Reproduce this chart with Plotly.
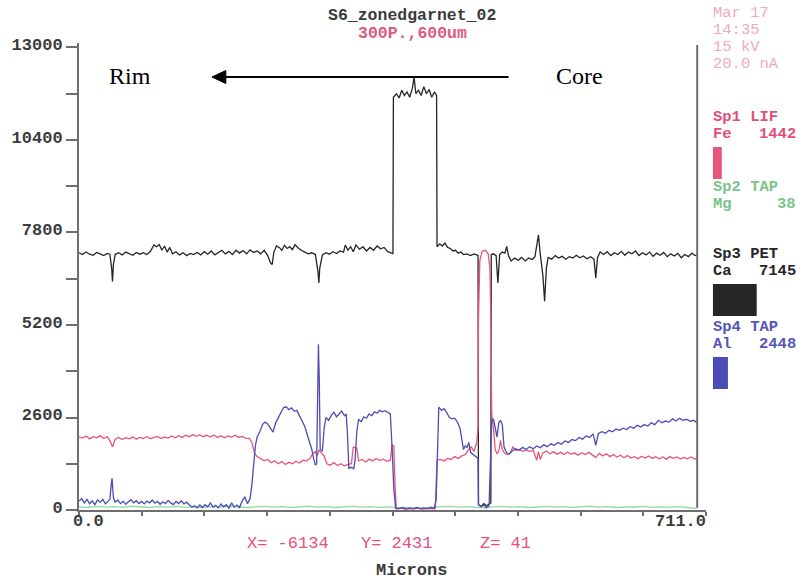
import plotly.graph_objects as go
import numpy as np

# ---- line-scan profiles (microns, counts) ----
CA_PROFILE = [
    (0, 7230), (4, 7180), (8, 7250), (12, 7190), (16, 7160), (20, 7240), (24, 7200), (28, 7150),
    (32, 7210), (35, 7190), (37, 6800), (38, 6420), (39, 6900), (41, 7180), (45, 7230), (49, 7170),
    (53, 7250), (57, 7200), (61, 7160), (65, 7240), (69, 7190), (73, 7230), (77, 7180), (81, 7270),
    (85, 7450), (88, 7400), (91, 7460), (94, 7300), (97, 7420), (100, 7250), (103, 7380), (106, 7200),
    (110, 7260), (114, 7170), (118, 7230), (122, 7150), (126, 7210), (130, 7180), (134, 7240), (138, 7170),
    (142, 7260), (146, 7190), (150, 7280), (154, 7170), (158, 7240), (162, 7300), (166, 7200), (170, 7270),
    (174, 7180), (178, 7300), (182, 7220), (186, 7290), (190, 7200), (194, 7310), (198, 7240), (202, 7280),
    (206, 7200), (210, 7300), (214, 7150), (217, 6950), (219, 6900), (221, 7250), (224, 7420), (227, 7380),
    (230, 7300), (233, 7440), (236, 7350), (239, 7400), (242, 7320), (245, 7460), (248, 7380), (252, 7300),
    (256, 7250), (260, 7200), (264, 7230), (268, 7180), (271, 6700), (272, 6380), (273, 6800), (276, 7170),
    (280, 7230), (284, 7190), (288, 7260), (292, 7210), (296, 7280), (300, 7250), (302, 7450), (305, 7300),
    (308, 7400), (311, 7260), (314, 7450), (318, 7330), (322, 7400), (326, 7280), (330, 7380), (334, 7300),
    (338, 7420), (342, 7340), (346, 7380), (350, 7260), (354, 7230), (356, 7200),
    (356.5, 11600), (360, 11700), (363, 11580), (366, 11800), (369, 11650), (372, 11750), (375, 11600),
    (378, 11850), (380, 12160), (382, 11700), (385, 11800), (388, 11650), (391, 11900), (394, 11700),
    (397, 11820), (400, 11600), (403, 11750), (405.5, 11650),
    (406, 7400), (409, 7480), (412, 7420), (415, 7500), (418, 7380), (421, 7350), (424, 7280), (427, 7300),
    (430, 7220), (433, 7250), (436, 7180), (440, 7200), (444, 7150), (448, 7200), (451, 7170), (452.5, 7150),
    (453, 150), (456, 100), (459, 180), (462, 120), (465, 160), (467, 200),
    (467.5, 7180), (470, 7200), (473, 7150), (475, 6380), (477, 7180), (480, 7250), (483, 7220), (485, 7410),
    (487, 7150), (490, 7000), (494, 7080), (498, 7020), (502, 7100), (506, 7000), (510, 7080), (514, 7040),
    (517, 7120), (520, 7600), (521, 7735), (523, 7200), (526, 6600), (528, 5870), (530, 6800), (532, 7100),
    (536, 7050), (540, 7150), (544, 7080), (548, 7130), (552, 7050), (556, 7120), (560, 7080), (564, 7160),
    (568, 7090), (572, 7140), (576, 7060), (580, 7120), (584, 7050), (586, 6520), (588, 7100), (591, 7250),
    (595, 7180), (599, 7260), (603, 7150), (607, 7230), (611, 7180), (615, 7270), (619, 7160), (623, 7250),
    (627, 7200), (631, 7280), (635, 7150), (639, 7230), (643, 7170), (647, 7250), (651, 7130), (655, 7220),
    (659, 7160), (663, 7240), (667, 7120), (671, 7200), (675, 7140), (679, 7210), (683, 7090), (687, 7180),
    (691, 7120), (695, 7220), (698, 7160), (701, 7145),
]

FE_PROFILE = [
    (0, 2050), (4, 2020), (8, 2080), (12, 2000), (16, 2060), (20, 2030), (24, 2090), (28, 2010),
    (32, 2060), (35, 1950), (38, 1780), (41, 1990), (45, 2040), (49, 1980), (53, 2030), (57, 2000),
    (61, 2050), (65, 1990), (69, 2040), (73, 2010), (77, 2060), (81, 2000), (85, 2040), (89, 2070),
    (93, 2010), (97, 2050), (101, 2020), (105, 2080), (109, 2030), (113, 2090), (117, 2040), (121, 2100),
    (125, 2060), (129, 2120), (133, 2070), (137, 2110), (141, 2060), (145, 2100), (149, 2050), (153, 2110),
    (157, 2040), (161, 2090), (165, 2030), (169, 2080), (173, 2050), (177, 2100), (181, 2040), (185, 2070),
    (189, 2020), (193, 2010), (196, 1900), (199, 1600), (202, 1500), (206, 1440), (210, 1380), (214, 1420),
    (218, 1330), (222, 1380), (226, 1300), (230, 1360), (234, 1280), (238, 1340), (242, 1300), (246, 1370),
    (250, 1320), (254, 1400), (258, 1380), (262, 1450), (265, 1580), (268, 1640), (270, 1520), (272, 1680),
    (275, 1600), (278, 1520), (281, 1300), (285, 1260), (289, 1330), (293, 1250), (297, 1300), (301, 1240),
    (305, 1280), (309, 1300), (311, 1770), (315, 1740), (317, 1380), (321, 1420), (325, 1350), (329, 1430),
    (333, 1380), (337, 1450), (341, 1390), (345, 1430), (349, 1370), (353, 1400), (355, 1820), (357, 1800),
    (358.5, 600), (360, 30), (365, 50), (370, 20), (375, 40), (380, 30), (385, 50), (390, 25), (395, 45),
    (400, 30), (404, 40), (406, 1400), (410, 1420), (414, 1380), (418, 1450), (422, 1420), (426, 1500),
    (430, 1450), (434, 1520), (438, 1560), (442, 1700), (445, 1770), (448, 1650), (451, 1900), (452.5, 2300),
    (453, 5400), (454.5, 7000), (457, 7270), (461, 7300), (464, 7200), (466, 6800), (467, 5400), (468, 2700),
    (470, 2300), (472, 1700), (474, 1580), (476, 1650), (478, 1960), (480, 1700), (483, 1580), (486, 1560),
    (489, 1600), (492, 1770), (495, 1680), (499, 1700), (503, 1650), (507, 1690), (511, 1640), (515, 1680),
    (519, 1400), (521, 1640), (523, 1420), (526, 1600), (530, 1660), (534, 1580), (538, 1640), (542, 1570),
    (546, 1620), (550, 1560), (554, 1630), (558, 1570), (562, 1600), (566, 1540), (570, 1610), (574, 1560),
    (578, 1620), (582, 1550), (586, 1480), (590, 1590), (594, 1520), (598, 1580), (602, 1500), (606, 1560),
    (610, 1490), (614, 1540), (618, 1470), (622, 1530), (626, 1460), (630, 1500), (634, 1440), (638, 1510),
    (642, 1460), (646, 1520), (650, 1450), (654, 1500), (658, 1440), (662, 1490), (666, 1430), (670, 1500),
    (674, 1450), (678, 1490), (682, 1430), (686, 1480), (690, 1440), (694, 1490), (698, 1430), (701, 1442),
]

AL_PROFILE = [
    (0, 250), (3, 320), (6, 200), (9, 300), (12, 180), (15, 260), (18, 150), (21, 280), (24, 220),
    (27, 300), (30, 170), (33, 240), (35, 300), (36.5, 700), (37.5, 890), (39, 350), (41, 220), (44, 280),
    (47, 180), (50, 250), (53, 160), (56, 230), (59, 290), (62, 200), (65, 260), (68, 180), (71, 240),
    (74, 170), (77, 250), (80, 200), (83, 280), (86, 190), (89, 240), (92, 160), (95, 230), (98, 180),
    (101, 270), (104, 200), (107, 150), (110, 240), (113, 180), (116, 260), (119, 170), (122, 220),
    (125, 140), (128, 80), (131, 120), (134, 60), (137, 140), (140, 70), (143, 150), (146, 90), (149, 200),
    (152, 80), (155, 130), (158, 60), (161, 170), (164, 90), (167, 150), (170, 50), (173, 200), (176, 80),
    (179, 140), (182, 70), (185, 250), (188, 370), (191, 180), (194, 320), (196, 700), (198, 1300),
    (200, 1800), (202, 2050), (205, 2200), (208, 2400), (211, 2470), (214, 2420), (217, 2300), (220, 2190),
    (223, 2450), (226, 2600), (229, 2750), (232, 2880), (235, 2900), (238, 2820), (241, 2870), (244, 2780),
    (247, 2800), (250, 2650), (253, 2500), (256, 2350), (259, 2100), (262, 1850), (264, 1700), (266, 1450),
    (268, 1260), (269.5, 1300), (270.5, 4000), (271.5, 4660), (272.5, 3600), (273.5, 1700), (276, 1650),
    (278, 2300), (280, 2600), (283, 2520), (286, 2650), (289, 2750), (292, 2620), (295, 2700), (298, 2780),
    (301, 2650), (303, 2700), (304.5, 2100), (306, 1170), (309, 1200), (311.5, 1150), (313, 1400),
    (315, 2200), (317, 2550), (320, 2480), (323, 2620), (326, 2580), (329, 2700), (332, 2650), (335, 2760),
    (338, 2720), (341, 2800), (344, 2760), (347, 2790), (350, 2740), (353, 2700), (355, 1770), (357, 600),
    (359, 60), (363, 40), (367, 70), (371, 30), (375, 60), (379, 40), (383, 70), (387, 30), (391, 50),
    (395, 40), (399, 70), (403, 50), (405, 300), (406.5, 2000), (408, 2890), (411, 2800), (414, 2850),
    (417, 2740), (420, 2600), (423, 2560), (426, 2580), (429, 2480), (432, 2300), (434, 2000), (436, 1700),
    (438, 1800), (440, 1760), (442, 1900), (444, 1620), (447, 1560), (450, 1500), (452.5, 1450), (453, 150),
    (456, 90), (459, 140), (462, 60), (465, 120), (466.5, 1580), (468, 2500), (470, 2560), (472, 2300),
    (474, 2050), (476, 2450), (478, 2520), (480, 2400), (482, 1770), (485, 1600), (488, 1580), (491, 1650),
    (495, 1720), (499, 1680), (503, 1760), (507, 1700), (511, 1780), (515, 1720), (519, 1800), (523, 1750),
    (527, 1830), (531, 1780), (535, 1860), (539, 1820), (543, 1900), (547, 1850), (551, 1940), (555, 1900),
    (559, 1980), (563, 1950), (567, 2040), (571, 1990), (575, 2080), (579, 2040), (583, 2140), (586, 1820),
    (589, 2150), (593, 2200), (597, 2160), (601, 2240), (605, 2200), (609, 2280), (613, 2240), (617, 2300),
    (621, 2260), (625, 2340), (629, 2300), (633, 2380), (637, 2330), (641, 2400), (645, 2360), (649, 2450),
    (653, 2400), (657, 2520), (661, 2450), (665, 2500), (669, 2470), (673, 2560), (677, 2500), (681, 2580),
    (685, 2520), (689, 2550), (693, 2490), (697, 2520), (701, 2448),
]

MG_PROFILE = [
    (0, 90), (10, 70), (20, 100), (30, 80), (40, 95), (50, 75), (60, 105), (70, 85), (80, 70), (90, 95),
    (100, 80), (110, 100), (120, 75), (130, 90), (140, 70), (150, 95), (160, 80), (170, 105), (180, 85),
    (190, 70), (200, 90), (210, 100), (220, 80), (230, 95), (240, 75), (250, 90), (260, 105), (270, 80),
    (280, 95), (290, 70), (300, 90), (310, 100), (320, 80), (330, 95), (340, 75), (350, 90), (360, 60),
    (370, 70), (380, 55), (390, 65), (400, 60), (410, 85), (420, 100), (430, 80), (440, 95), (450, 75),
    (460, 60), (470, 90), (480, 100), (490, 80), (500, 95), (510, 70), (520, 90), (530, 100), (540, 80),
    (550, 95), (560, 75), (570, 90), (580, 105), (590, 80), (600, 95), (610, 70), (620, 90), (630, 85),
    (640, 100), (650, 75), (660, 90), (670, 80), (680, 95), (690, 70), (701, 38),
]

X_MAX = 711.0
SCAN_END = 701.0
Y_TOP = 13126          # axis line runs a little past the top tick
Y_TICKS = [0, 2600, 5200, 7800, 10400, 13000]
STAGE_POS = [("X", -6134), ("Y", 2431), ("Z", 41)]
CONDITIONS = ["Mar 17", "14:35", "15 kV", "20.0 nA"]

# spectrometer channels: (spectrometer, crystal, element, profile, line colour, text colour)
CHANNELS = [
    ("Sp1", "LIF", "Fe", FE_PROFILE, "#e8557c", "#e0507a"),
    ("Sp2", "TAP", "Mg", MG_PROFILE, "#95d8a4", "#7cc48c"),
    ("Sp3", "PET", "Ca", CA_PROFILE, "#262626", "#262626"),
    ("Sp4", "TAP", "Al", AL_PROFILE, "#4b4db4", "#5557b8"),
]
DRAW_ORDER = ["Mg", "Ca", "Fe", "Al"]
COUNTS_PER_PX = 162  # legend bar length scale

# ---- geometry of the plotting frame (pixels) ----
W, H = 803, 582
PL, PR, PT, PB = 74, 706, 43, 510


def pxx(x):
    return (x - PL) / (PR - PL)


def pxy(y):
    return (PB - y) / (PB - PT)


MONO = "Liberation Mono"
AXIS_GREY = "#6e6e6e"

fig = go.Figure()

by_elem = {c[2]: c for c in CHANNELS}
for elem in DRAW_ORDER:
    sp, xtal, el, prof, col, _ = by_elem[elem]
    xs, ys = zip(*prof)
    fig.add_trace(go.Scatter(x=list(xs), y=list(ys), mode="lines", name=el,
                             line=dict(color=col, width=1.3), showlegend=False))

fig.update_layout(
    width=W, height=H,
    margin=dict(l=PL, r=W - PR, t=PT, b=H - PB, pad=0),
    paper_bgcolor="white", plot_bgcolor="white",
    showlegend=False,
    xaxis=dict(range=[0, X_MAX], showgrid=False, zeroline=False,
               showline=True, linecolor=AXIS_GREY, linewidth=2,
               ticks="outside", ticklen=4, tickwidth=1.5, tickcolor=AXIS_GREY,
               tickvals=list(np.linspace(0, X_MAX, 11)), showticklabels=False),
    yaxis=dict(range=[0, Y_TOP], showgrid=False, zeroline=False,
               showline=True, linecolor=AXIS_GREY, linewidth=2,
               ticks="outside", ticklen=11, tickwidth=1.5, tickcolor=AXIS_GREY,
               tickvals=Y_TICKS, ticktext=[str(v) for v in Y_TICKS],
               ticklabelshift=-3, ticklabelstandoff=0,
               tickfont=dict(family=MONO, size=17, color="#3c3c3c", weight="bold"),
               minor=dict(ticks="outside", ticklen=11, tickwidth=1.5, tickcolor=AXIS_GREY,
                          dtick=1300, tick0=1300, showgrid=False)),
)

ann = []
shapes = []

# right-hand frame line at end of scan
shapes.append(dict(type="line", xref="x", yref="paper", x0=SCAN_END, x1=SCAN_END,
                   y0=0.005, y1=pxy(45), line=dict(color=AXIS_GREY, width=2)))

# x-axis end labels
tick_font = dict(family=MONO, size=17, color="#3c3c3c", weight="bold")
ann.append(dict(text="0.0", x=0, xref="x", y=pxy(521), yref="paper", xanchor="left", yanchor="middle",
                xshift=-8, showarrow=False, font=tick_font))
ann.append(dict(text=f"{X_MAX:.1f}", x=X_MAX, xref="x", y=pxy(521), yref="paper", xanchor="right",
                yanchor="middle", xshift=2, showarrow=False, font=tick_font))

# titles
ann.append(dict(text="S6_zonedgarnet_02", x=pxx(410), y=pxy(15.5), xref="paper", yref="paper",
                xanchor="center", yanchor="middle", showarrow=False, borderpad=0,
                font=dict(family=MONO, size=16.5, color="#3a3a3a", weight="bold")))
ann.append(dict(text="300P.,600um", x=pxx(410), y=pxy(33.5), xref="paper", yref="paper",
                xanchor="center", yanchor="middle", showarrow=False, borderpad=0,
                font=dict(family=MONO, size=16.5, color="#e05a80", weight="bold")))

# stage position and axis title
for (axis_name, val), cx in zip(STAGE_POS, [241, 356, 476]):
    ann.append(dict(text=f"{axis_name}= {val}", x=pxx(cx), y=pxy(543), xref="paper", yref="paper",
                    xanchor="left", yanchor="middle", showarrow=False,
                    font=dict(family=MONO, size=17, color="#e8507c")))
ann.append(dict(text="Microns", x=pxx(409), y=pxy(570), xref="paper", yref="paper",
                xanchor="center", yanchor="middle", showarrow=False,
                font=dict(family=MONO, size=17, color="#3a3a3a", weight="bold")))

# acquisition conditions
for i, txt in enumerate(CONDITIONS):
    ann.append(dict(text=txt, x=pxx(712), y=pxy(13 + 17 * i), xref="paper", yref="paper",
                    xanchor="left", yanchor="middle", showarrow=False, borderpad=0,
                    font=dict(family=MONO, size=15.5, color="#f0aabf")))

# spectrometer legend: label, current count, bar proportional to count
LEG_TOP = [117, 187, 254, 327]
for (sp, xtal, el, prof, col, tcol), ytop in zip(CHANNELS, LEG_TOP):
    last = prof[-1][1]
    f = dict(family=MONO, size=15.5, color=tcol, weight="bold")
    ann.append(dict(text=f"{sp} {xtal}", x=pxx(712), y=pxy(ytop), xref="paper", yref="paper",
                    xanchor="left", yanchor="middle", showarrow=False, borderpad=0, font=f))
    ann.append(dict(text=el, x=pxx(712), y=pxy(ytop + 17), xref="paper", yref="paper",
                    xanchor="left", yanchor="middle", showarrow=False, borderpad=0, font=f))
    ann.append(dict(text=str(last), x=pxx(798), y=pxy(ytop + 17), xref="paper", yref="paper",
                    xanchor="right", yanchor="middle", showarrow=False, borderpad=0, font=f))
    bar_w = last / COUNTS_PER_PX
    if bar_w >= 1:
        shapes.append(dict(type="rect", xref="paper", yref="paper",
                           x0=pxx(713), x1=pxx(713 + bar_w), y0=pxy(ytop + 30), y1=pxy(ytop + 62),
                           fillcolor=col, line=dict(width=0)))

# Rim <- Core direction marker
ann.append(dict(text="Rim", x=pxx(102), y=pxy(76), xref="paper", yref="paper",
                xanchor="left", yanchor="middle", showarrow=False,
                font=dict(family="Liberation Serif", size=24, color="black")))
ann.append(dict(text="Core", x=pxx(553), y=pxy(76), xref="paper", yref="paper",
                xanchor="left", yanchor="middle", showarrow=False,
                font=dict(family="Liberation Serif", size=24, color="black")))
shapes.append(dict(type="line", xref="paper", yref="paper", x0=pxx(507), x1=pxx(218),
                   y0=pxy(77), y1=pxy(77), line=dict(color="black", width=2)))
shapes.append(dict(type="path", xref="paper", yref="paper",
                   path=f"M {pxx(208)} {pxy(77)} L {pxx(222)} {pxy(70.5)} L {pxx(222)} {pxy(83.5)} Z",
                   fillcolor="black", line=dict(color="black", width=1)))

fig.update_layout(annotations=ann, shapes=shapes)
fig.write_html("out.html")
